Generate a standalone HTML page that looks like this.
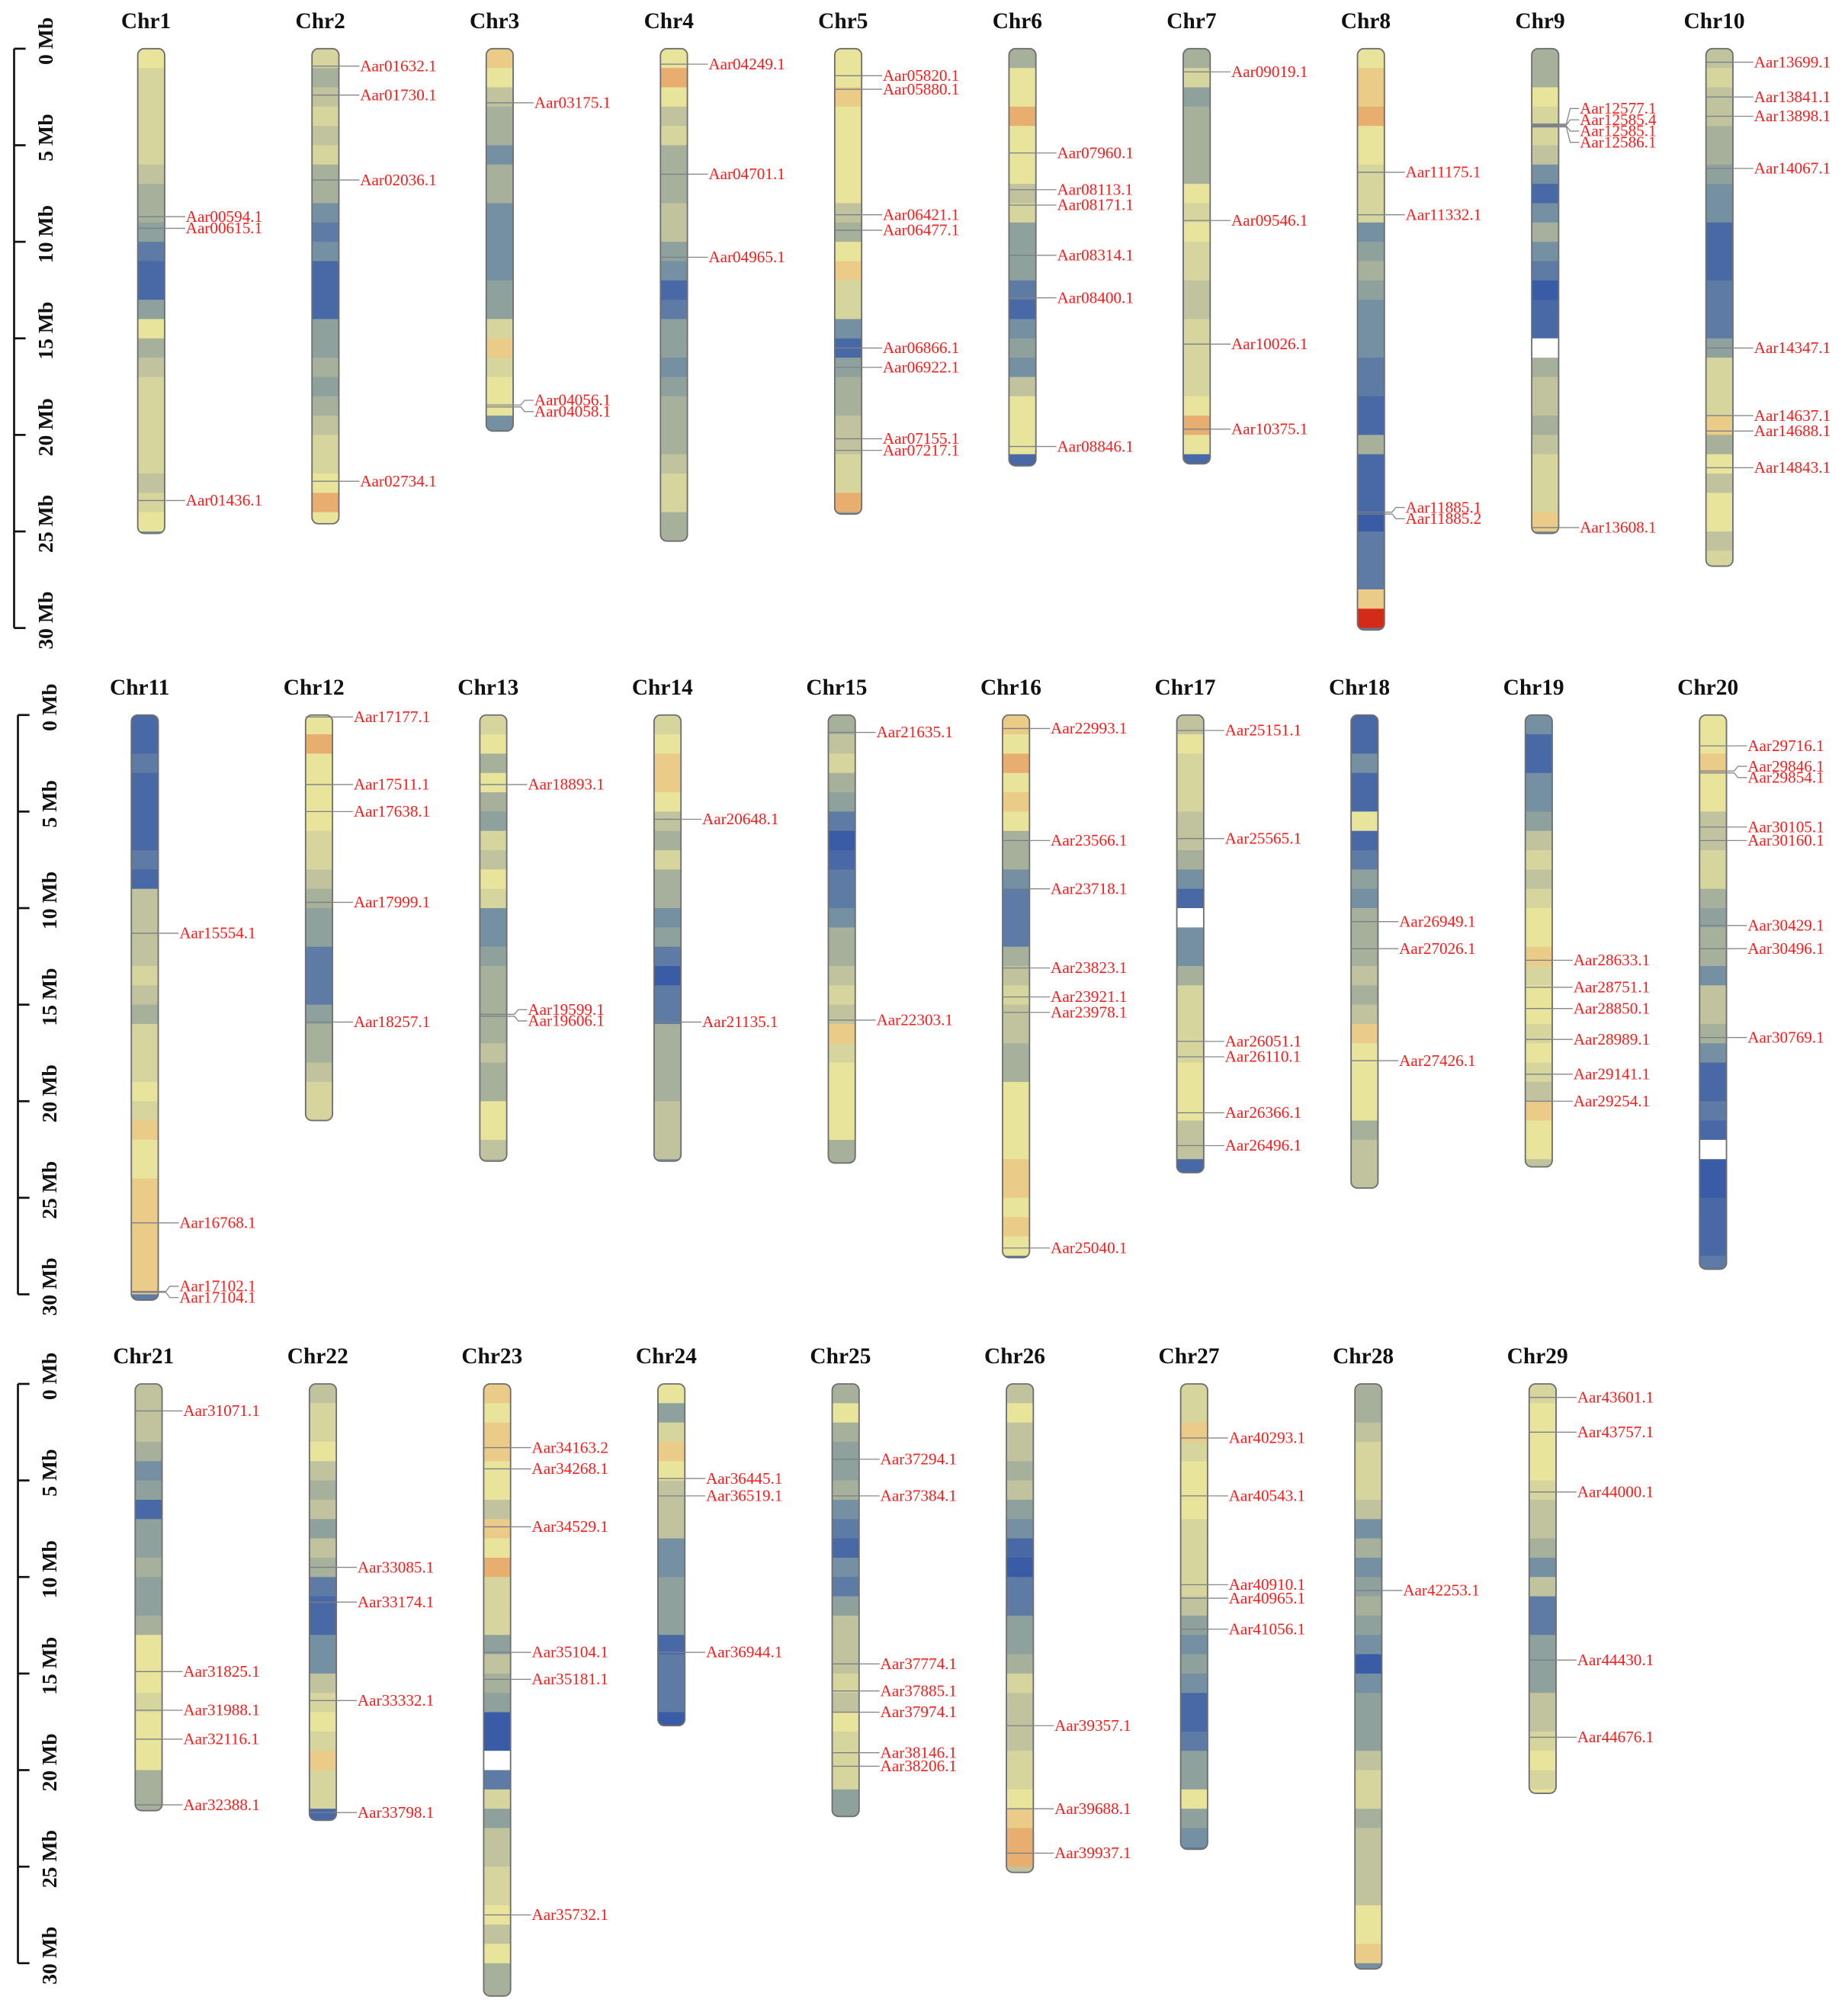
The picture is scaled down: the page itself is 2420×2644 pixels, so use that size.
<!DOCTYPE html>
<html><head><meta charset="utf-8"><style>
html,body{margin:0;padding:0;background:#fff;}
svg{display:block;}
</style></head><body>
<svg id="chart" xmlns="http://www.w3.org/2000/svg" width="2420" height="2644" viewBox="0 0 1440 1573.3"></svg>
<script>
const chrNames = ["Chr1","Chr2","Chr3","Chr4","Chr5","Chr6","Chr7","Chr8","Chr9","Chr10","Chr11","Chr12","Chr13","Chr14","Chr15","Chr16","Chr17","Chr18","Chr19","Chr20","Chr21","Chr22","Chr23","Chr24","Chr25","Chr26","Chr27","Chr28","Chr29"];
const chrLengths = [25.1,24.6,19.8,25.5,24.1,21.6,21.5,30.1,25.1,26.8,30.3,21.0,23.1,23.1,23.2,28.1,23.7,24.5,23.4,28.7,22.1,22.6,31.7,17.7,22.4,25.3,24.1,30.3,21.2];
// gene density per 1 Mb bin (0 = low/blue ... 10 = high/orange, 11 = red, null = gap)
const densityBins = [
[8,7,7,7,7,7,6,5,5,4,2,1,1,4,8,5,6,7,7,7,7,7,6,7,8,3],
[7,5,6,7,6,7,5,5,3,2,3,1,1,1,4,4,5,4,5,6,7,7,8,10,8],
[9,8,6,5,5,3,5,5,3,3,3,3,4,4,7,9,7,8,8,3],
[8,10,8,6,7,5,5,5,6,6,4,3,1,2,4,4,3,4,5,5,5,6,7,7,5,5],
[8,8,9,8,8,8,8,8,6,5,8,9,7,7,3,1,4,5,5,6,6,7,7,10,4],
[5,8,8,10,8,8,8,6,7,4,4,4,2,1,3,4,3,6,8,8,8,1],
[5,7,4,5,5,5,5,8,7,8,7,7,6,6,7,7,7,7,8,10,8,1],
[8,9,9,10,8,8,7,7,7,3,4,5,4,3,3,3,2,2,1,1,5,1,1,1,0,2,2,2,9,11,2],
[5,5,8,7,7,6,3,1,3,5,3,2,0,1,1,null,5,6,6,5,6,7,7,7,9,3],
[6,7,6,6,5,5,4,3,3,1,1,1,2,2,2,4,7,7,7,9,5,8,6,8,8,6,7],
[1,1,2,1,1,1,1,2,1,6,6,6,6,7,6,5,7,7,7,8,7,9,8,8,9,9,9,9,9,9,2],
[8,10,8,8,8,8,7,7,6,5,4,4,2,2,2,4,5,5,6,7,7,3],
[7,8,5,8,5,4,7,6,8,7,3,3,4,5,5,5,5,6,5,5,8,8,6,5],
[7,8,9,9,8,6,5,7,5,5,3,4,2,0,2,2,5,5,5,5,6,6,6,3],
[5,6,7,5,4,2,0,1,2,2,3,5,5,6,7,6,9,7,8,8,8,8,5,5],
[9,8,10,8,9,8,5,5,3,2,2,2,5,6,7,6,6,5,5,8,8,8,8,9,9,8,9,8,2],
[6,8,7,7,7,6,6,5,3,1,null,3,3,5,7,7,7,7,8,8,8,6,6,1],
[1,1,3,1,1,8,1,2,4,3,5,5,5,6,5,6,9,8,8,8,8,5,6,6,6],
[3,1,1,3,3,4,6,7,6,7,8,8,9,7,8,8,7,8,7,6,9,8,8,6],
[8,8,9,8,8,6,6,7,7,5,4,5,5,3,6,6,5,3,1,1,2,1,null,0,0,1,1,1,2],
[6,6,6,5,3,4,1,4,4,5,4,4,5,8,8,8,7,8,8,8,5,5,5],
[6,7,7,8,6,5,6,4,6,5,2,1,1,3,3,6,7,8,7,9,7,7,1],
[9,8,9,9,8,8,6,9,8,10,7,7,7,4,6,5,4,0,0,null,2,7,4,6,6,7,7,8,6,8,5,5],
[8,4,7,9,8,6,6,6,3,3,4,4,4,1,2,2,2,0],
[5,8,5,4,4,5,3,2,1,3,2,4,6,6,6,7,6,8,7,7,7,4,4],
[6,8,6,6,5,6,4,3,1,0,2,2,4,4,5,7,6,6,6,7,7,8,9,10,10,6],
[7,7,9,7,8,8,8,7,7,7,7,6,4,3,4,3,1,1,2,4,4,8,4,3,2],
[5,5,6,7,7,7,6,3,5,3,4,5,4,3,0,3,4,4,4,6,7,7,5,6,6,6,6,8,8,9,3],
[7,8,8,8,8,7,6,6,5,3,6,2,2,4,4,4,6,6,7,8,7,8]
];
const geneNames = [
["Aar00594.1","Aar00615.1","Aar01436.1"],
["Aar01632.1","Aar01730.1","Aar02036.1","Aar02734.1"],
["Aar03175.1","Aar04056.1","Aar04058.1"],
["Aar04249.1","Aar04701.1","Aar04965.1"],
["Aar05820.1","Aar05880.1","Aar06421.1","Aar06477.1","Aar06866.1","Aar06922.1","Aar07155.1","Aar07217.1"],
["Aar07960.1","Aar08113.1","Aar08171.1","Aar08314.1","Aar08400.1","Aar08846.1"],
["Aar09019.1","Aar09546.1","Aar10026.1","Aar10375.1"],
["Aar11175.1","Aar11332.1","Aar11885.1","Aar11885.2"],
["Aar12577.1","Aar12585.4","Aar12585.1","Aar12586.1","Aar13608.1"],
["Aar13699.1","Aar13841.1","Aar13898.1","Aar14067.1","Aar14347.1","Aar14637.1","Aar14688.1","Aar14843.1"],
["Aar15554.1","Aar16768.1","Aar17102.1","Aar17104.1"],
["Aar17177.1","Aar17511.1","Aar17638.1","Aar17999.1","Aar18257.1"],
["Aar18893.1","Aar19599.1","Aar19606.1"],
["Aar20648.1","Aar21135.1"],
["Aar21635.1","Aar22303.1"],
["Aar22993.1","Aar23566.1","Aar23718.1","Aar23823.1","Aar23921.1","Aar23978.1","Aar25040.1"],
["Aar25151.1","Aar25565.1","Aar26051.1","Aar26110.1","Aar26366.1","Aar26496.1"],
["Aar26949.1","Aar27026.1","Aar27426.1"],
["Aar28633.1","Aar28751.1","Aar28850.1","Aar28989.1","Aar29141.1","Aar29254.1"],
["Aar29716.1","Aar29846.1","Aar29854.1","Aar30105.1","Aar30160.1","Aar30429.1","Aar30496.1","Aar30769.1"],
["Aar31071.1","Aar31825.1","Aar31988.1","Aar32116.1","Aar32388.1"],
["Aar33085.1","Aar33174.1","Aar33332.1","Aar33798.1"],
["Aar34163.2","Aar34268.1","Aar34529.1","Aar35104.1","Aar35181.1","Aar35732.1"],
["Aar36445.1","Aar36519.1","Aar36944.1"],
["Aar37294.1","Aar37384.1","Aar37774.1","Aar37885.1","Aar37974.1","Aar38146.1","Aar38206.1"],
["Aar39357.1","Aar39688.1","Aar39937.1"],
["Aar40293.1","Aar40543.1","Aar40910.1","Aar40965.1","Aar41056.1"],
["Aar42253.1"],
["Aar43601.1","Aar43757.1","Aar44000.1","Aar44430.1","Aar44676.1"]
];
const genePositions = [
[8.7,9.3,23.4],
[0.9,2.4,6.8,22.4],
[2.8,18.45,18.55],
[0.8,6.5,10.8],
[1.4,2.1,8.6,9.4,15.5,16.5,20.2,20.8],
[5.4,7.3,8.1,10.7,12.9,20.6],
[1.2,8.9,15.3,19.7],
[6.4,8.6,24.0,24.1],
[3.9,3.95,4.0,4.05,24.8],
[0.7,2.5,3.5,6.2,15.5,19.0,19.8,21.7],
[11.3,26.3,29.85,29.9],
[0.1,3.6,5.0,9.7,15.9],
[3.6,15.5,15.6],
[5.4,15.9],
[0.9,15.8],
[0.7,6.5,9.0,13.1,14.6,15.4,27.6],
[0.8,6.4,16.9,17.7,20.6,22.3],
[10.7,12.1,17.9],
[12.7,14.1,15.2,16.8,18.6,20.0],
[1.6,2.9,3.0,5.8,6.5,10.9,12.1,16.7],
[1.4,14.9,16.9,18.4,21.8],
[9.5,11.3,16.4,22.2],
[3.3,4.4,7.4,13.9,15.3,27.5],
[4.9,5.8,13.9],
[3.9,5.8,14.5,15.9,17.0,19.1,19.8],
[17.7,22.0,24.3],
[2.8,5.8,10.4,11.1,12.7],
[10.7],
[0.7,2.5,5.6,14.3,18.3]
];
const axisTicks = [0,5,10,15,20,25,30];
const axisTickLabels = ["0 Mb","5 Mb","10 Mb","15 Mb","20 Mb","25 Mb","30 Mb"];

// layout (not data)
const PX_PER_MB = 15.07;
const rowTop = [38, 558, 1080];
const rowX0 = [118, 113, 116];
const COL_STEP = 136;
const BAR_W = 21;
const palette = ["#3a5ca6","#4868a6","#5d7ba4","#7590a2","#8ea19c","#a7b09b","#c0c39d","#d6d59d","#e9e49c","#ebcb88","#e7ae70","#d42a1a"];
const NS = "http://www.w3.org/2000/svg";
const svg = document.getElementById("chart");
function mk(tag, attrs, parent){ const e=document.createElementNS(NS,tag); for(const k in attrs) e.setAttribute(k,attrs[k]); (parent||svg).appendChild(e); return e; }
function yScale(row, mb){ return rowTop[row] + mb*PX_PER_MB; }
function colorFor(v){ return v===null ? "#ffffff" : palette[Math.max(0,Math.min(11,v))]; }

const defs = mk("defs",{});
for(let r=0;r<3;r++){
  const g = mk("g",{});
  
  
  const ax = r===0?11:14;
  mk("line",{x1:ax,y1:yScale(r,0),x2:ax,y2:yScale(r,30),stroke:"#111","stroke-width":1.6},g);
  axisTicks.forEach((t,i)=>{
    const y=yScale(r,t);
    const tk=mk("line",{x1:ax,y1:y,x2:ax+9,y2:y,stroke:"#111","stroke-width":1.6},g);
    
    
    const tx=ax+30, ty=y-6;
    const lab=mk("text",{x:tx,y:ty,transform:`rotate(-90 ${tx} ${ty})`,"text-anchor":"middle","font-family":"'Liberation Serif',serif","font-weight":"bold","font-size":16.5,fill:"#111"},g);
    lab.textContent=axisTickLabels[i];
    
    
  });
}

chrNames.forEach((name,ci)=>{
  const row = Math.floor(ci/10), col = ci%10;
  const cx = rowX0[row] + col*COL_STEP;
  const len = chrLengths[ci];
  const top = yScale(row,0), bot = yScale(row,len);
  const g = mk("g",{});
  
  
  const title = mk("text",{x:cx-4,y:rowTop[row]-16,"text-anchor":"middle","font-family":"'Liberation Serif',serif","font-weight":"bold","font-size":17.5,fill:"#111"},g);
  title.textContent = name;
  
  
  const cp = mk("clipPath",{id:"clip"+ci},defs);
  mk("rect",{x:cx-BAR_W/2,y:top,width:BAR_W,height:bot-top,rx:5,ry:5},cp);
  const bins = mk("g",{"clip-path":`url(#clip${ci})`},g);
  densityBins[ci].forEach((v,bi)=>{
    const y0=yScale(row,bi), y1=yScale(row,Math.min(bi+1,len));
    if(y1<=y0) return;
    const b=mk("rect",{x:cx-BAR_W/2,y:y0,width:BAR_W,height:y1-y0+0.4,fill:colorFor(v)},bins);
    
    
  });
  const outline = mk("rect",{x:cx-BAR_W/2,y:top,width:BAR_W,height:bot-top,rx:5,ry:5,fill:"none",stroke:"#6f6f6f","stroke-width":1.1},g);
  
  

  const pos = genePositions[ci], names = geneNames[ci];
  const gy = pos.map(p=>yScale(row,p));
  const order = gy.map((y,i)=>i).sort((a,b)=>gy[a]-gy[b]);
  const ly = [];
  const GAP = 8.8;
  const groups=[];
  order.forEach(i=>{
    const y=gy[i];
    if(groups.length){
      const last=groups[groups.length-1];
      const lastEnd=last.start+(last.items.length)*GAP;
      if(y<lastEnd){ last.items.push(i); last.sum+=y; const c=last.sum/last.items.length; last.start=c-(last.items.length-1)*GAP/2; return; }
    }
    groups.push({start:y,items:[i],sum:y});
  });
  groups.forEach(gr=>gr.items.forEach((i,k)=>{ly[i]=gr.start+k*GAP;}));
  names.forEach((nm,i)=>{
    const y=gy[i], yl=ly[i];
    const gg = mk("g",{},g);
    
    
    mk("line",{x1:cx-BAR_W/2,y1:y,x2:cx+BAR_W/2,y2:y,stroke:"#7a7f88","stroke-width":0.8},gg);
    if(Math.abs(yl-y)<0.5){
      mk("line",{x1:cx+BAR_W/2,y1:y,x2:cx+BAR_W/2+16,y2:y,stroke:"#888","stroke-width":0.8},gg);
    } else {
      mk("polyline",{points:`${cx+BAR_W/2},${y} ${cx+BAR_W/2+6},${y} ${cx+BAR_W/2+9},${yl} ${cx+BAR_W/2+16},${yl}`,fill:"none",stroke:"#888","stroke-width":0.8},gg);
    }
    const t=mk("text",{x:cx+BAR_W/2+16.5,y:yl+4,"font-family":"'Liberation Serif',serif","font-size":12.6,fill:"#ff1a1a"},gg);
    t.textContent=nm;
    
    
  });
});
</script>
</body></html>
